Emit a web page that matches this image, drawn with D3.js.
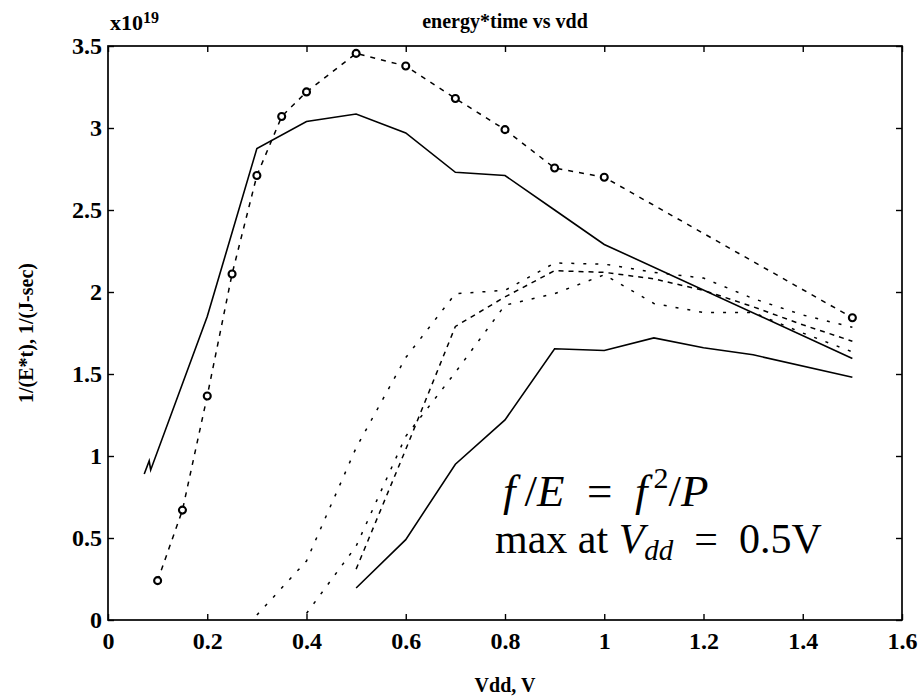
<!DOCTYPE html>
<html>
<head>
<meta charset="utf-8">
<script src="https://cdn.jsdelivr.net/npm/d3@7/dist/d3.min.js"></script>
<style>
  html, body { margin: 0; padding: 0; background: #fff; }
  svg { display: block; }
</style>
</head>
<body>
<svg id="chart" width="919" height="699"></svg>
<script>
// ---- data ----
const xTicks = [0, 0.2, 0.4, 0.6, 0.8, 1.0, 1.2, 1.4, 1.6];
const xTickLabels = ["0", "0.2", "0.4", "0.6", "0.8", "1", "1.2", "1.4", "1.6"];
const yTicks = [0, 0.5, 1, 1.5, 2, 2.5, 3, 3.5];
const yTickLabels = ["0", "0.5", "1", "1.5", "2", "2.5", "3", "3.5"];

// dashed line with circle markers
const circX = [0.1, 0.15, 0.2, 0.25, 0.3, 0.35, 0.4, 0.5, 0.6, 0.7, 0.8, 0.9, 1.0, 1.5];
const circY = [0.24, 0.67, 1.366, 2.11, 2.71, 3.07, 3.22, 3.455, 3.378, 3.18, 2.99, 2.756, 2.70, 1.843];

// upper solid line
const solidUpX = [0.073, 0.083, 0.086, 0.2, 0.3, 0.4, 0.5, 0.6, 0.7, 0.8, 0.9, 1.0, 1.5];
const solidUpY = [0.89, 0.97, 0.915, 1.85, 2.875, 3.04, 3.085, 2.97, 2.73, 2.71, 2.50, 2.29, 1.595];

// lower solid line
const solidLowX = [0.5, 0.6, 0.7, 0.8, 0.9, 1.0, 1.1, 1.2, 1.3, 1.5];
const solidLowY = [0.195, 0.49, 0.95, 1.22, 1.654, 1.643, 1.72, 1.66, 1.617, 1.48];

// middle curves
const dot1X = [0.3, 0.4, 0.5, 0.6, 0.7, 0.8, 0.9, 1.0, 1.1, 1.2, 1.3, 1.4, 1.5];
const dot1Y = [0.03, 0.36, 1.05, 1.60, 1.99, 2.01, 2.177, 2.17, 2.12, 2.085, 1.96, 1.86, 1.785];

const dash2X = [0.5, 0.6, 0.7, 0.8, 0.9, 1.0, 1.1, 1.2, 1.3, 1.4, 1.5];
const dash2Y = [0.31, 1.04, 1.79, 1.97, 2.13, 2.12, 2.08, 2.01, 1.91, 1.80, 1.70];

const dot3X = [0.4, 0.5, 0.6, 0.7, 0.8, 0.9, 1.0, 1.1, 1.2, 1.3, 1.4, 1.5];
const dot3Y = [0.04, 0.45, 1.12, 1.51, 1.92, 1.99, 2.105, 1.93, 1.875, 1.875, 1.75, 1.635];

// ---- layout ----
const svg = d3.select("#chart");
const L = 108, R = 902, T = 46, B = 620;
const x = d3.scaleLinear().domain([0, 1.6]).range([L, R]);
const y = d3.scaleLinear().domain([0, 3.5]).range([B, T]);

const serif = '"Liberation Serif"';

function pts(xs, ys) { return xs.map((v, i) => [v, ys[i]]); }
const line = d3.line().x(d => x(d[0])).y(d => y(d[1]));

// frame
svg.append("rect").attr("x", L).attr("y", T).attr("width", R - L).attr("height", B - T)
  .attr("fill", "none").attr("stroke", "#000").attr("stroke-width", 1.7);

// axes with inward ticks
const tickLen = 6;
const gx = svg.append("g").attr("transform", `translate(0,${B})`)
  .call(d3.axisBottom(x).tickValues(xTicks).tickSize(-tickLen).tickPadding(12)
    .tickFormat((d, i) => xTickLabels[i]));
const gxTop = svg.append("g").attr("transform", `translate(0,${T})`)
  .call(d3.axisTop(x).tickValues(xTicks).tickSize(-tickLen).tickFormat(""));
const gy = svg.append("g").attr("transform", `translate(${L},0)`)
  .call(d3.axisLeft(y).tickValues(yTicks).tickSize(-tickLen).tickPadding(6)
    .tickFormat((d, i) => yTickLabels[i]));
const gyR = svg.append("g").attr("transform", `translate(${R},0)`)
  .call(d3.axisRight(y).tickValues(yTicks).tickSize(-tickLen).tickFormat(""));

[gx, gxTop, gy, gyR].forEach(g => {
  g.attr("font-family", null).attr("font-size", null);
  g.select(".domain").remove();
  g.selectAll(".tick line").attr("stroke", "#000").attr("stroke-width", 1.4);
  g.selectAll("text").style("font-family", serif).style("font-weight", "bold")
    .style("font-size", "24px").attr("fill", "#000");
});
gx.selectAll("text").attr("dy", "0.71em");

// series
const g = svg.append("g").attr("fill", "none").attr("stroke", "#000");
g.append("path").attr("d", line(pts(solidUpX, solidUpY))).attr("stroke-width", 1.6);
g.append("path").attr("d", line(pts(solidLowX, solidLowY))).attr("stroke-width", 1.6);
g.append("path").attr("d", line(pts(dot1X, dot1Y))).attr("stroke-width", 1.5).attr("stroke-dasharray", "3,9");
g.append("path").attr("d", line(pts(dash2X, dash2Y))).attr("stroke-width", 1.5).attr("stroke-dasharray", "5,5");
g.append("path").attr("d", line(pts(dot3X, dot3Y))).attr("stroke-width", 1.5).attr("stroke-dasharray", "3,9");
g.append("path").attr("d", line(pts(circX, circY))).attr("stroke-width", 1.5).attr("stroke-dasharray", "5,6");

svg.append("g").selectAll("circle").data(pts(circX, circY)).join("circle")
  .attr("cx", d => x(d[0])).attr("cy", d => y(d[1])).attr("r", 3.5)
  .attr("fill", "#fff").attr("stroke", "#000").attr("stroke-width", 2.1);

// title and axis labels
svg.append("text").attr("x", (L + R) / 2).attr("y", 28).attr("text-anchor", "middle")
  .style("font-family", serif).style("font-weight", "bold").style("font-size", "20px")
  .text("energy*time vs vdd");

const ex = svg.append("text").attr("x", 110).attr("y", 30)
  .style("font-family", serif).style("font-weight", "bold").style("font-size", "22px");
ex.append("tspan").text("x10");
ex.append("tspan").attr("dy", -7).style("font-size", "16px").text("19");

svg.append("text").attr("transform", `translate(33,${(T + B) / 2}) rotate(-90)`)
  .attr("text-anchor", "middle").style("font-family", serif).style("font-weight", "bold")
  .style("font-size", "20px").text("1/(E*t), 1/(J-sec)");

svg.append("text").attr("x", (L + R) / 2).attr("y", 692).attr("text-anchor", "middle")
  .style("font-family", serif).style("font-weight", "bold").style("font-size", "20px")
  .text("Vdd, V");

// annotation
const a1 = svg.append("text").attr("x", 503).attr("y", 506)
  .style("font-family", serif).style("font-size", "45px");
a1.append("tspan").style("font-style", "italic").text("f");
a1.append("tspan").text("\u2009/");
a1.append("tspan").style("font-style", "italic").text("E");
a1.append("tspan").text("\u2002=\u2002");
a1.append("tspan").style("font-style", "italic").text("f");
a1.append("tspan").attr("dy", -18).style("font-size", "30px").text("\u20092");
a1.append("tspan").attr("dy", 18).text("/");
a1.append("tspan").style("font-style", "italic").text("P");

const a2 = svg.append("text").attr("x", 495).attr("y", 553)
  .style("font-family", serif).style("font-size", "42px");
a2.append("tspan").text("max at ");
a2.append("tspan").style("font-style", "italic").text("V");
a2.append("tspan").attr("dy", 7).style("font-size", "29px").style("font-style", "italic").text("dd");
a2.append("tspan").attr("dy", -7).text("\u2002=\u20020.5V");
</script>
</body>
</html>
